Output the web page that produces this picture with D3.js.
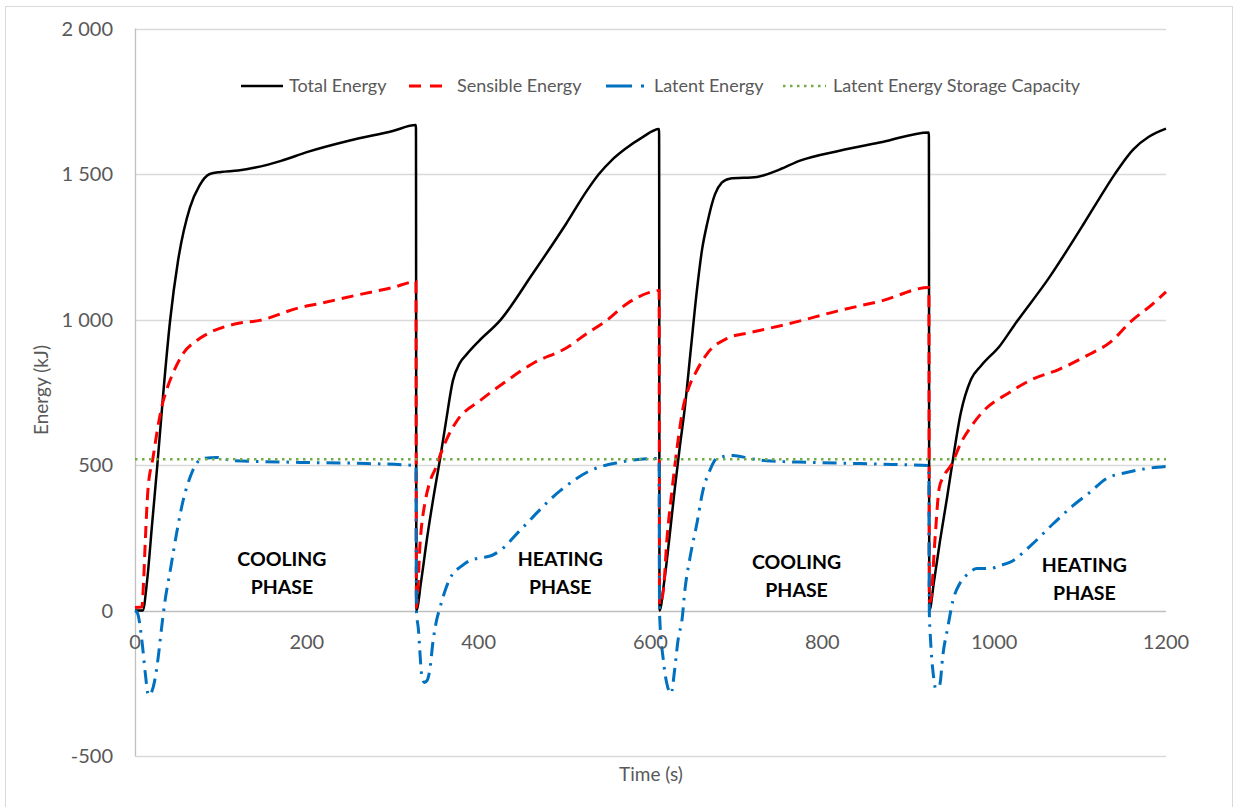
<!DOCTYPE html>
<html>
<head>
<meta charset="utf-8">
<script src="https://cdn.jsdelivr.net/npm/d3@7"></script>
<style>
  body { margin: 0; background: #fff; }
  svg text { font-family: Lato, "Open Sans", sans-serif; }
</style>
</head>
<body>
<svg id="chart" width="1234" height="807"></svg>
<script>
// Data: [time (s), energy (kJ)]
var totalEnergy = [
  [0,0],[9,0],[14,100],[20,300],[26,500],[33,750],[41,1000],[50,1200],[64,1385],[75,1460],[87,1500],
  [100,1507],[120,1512],[140,1522],[170,1545],[200,1575],[250,1615],[300,1648],[327,1668],
  [327.5,0],[333,100],[340,250],[348,400],[355,520],[362,650],[370,790],[378,850],[386,880],[400,925],
  [425,997],[463,1158],[502,1330],[526,1443],[540,1500],[555,1548],[570,1585],[590,1625],[610,1655],
  [610.5,0],[616,100],[622,250],[628,412],[634,560],[640,698],[647,900],[654,1100],[660,1240],[666,1330],
  [675,1430],[683,1470],[692,1484],[724,1490],[750,1515],[774,1546],[820,1580],[870,1610],[924,1643],
  [924.5,0],[930,100],[937,240],[945,385],[951,500],[961,677],[973,794],[985,842],[1007,911],[1024,983],
  [1064,1144],[1103,1323],[1123,1419],[1140,1498],[1162,1585],[1180,1628],[1200,1656]
];
var sensibleEnergy = [
  [0,10],[8,12],[10,100],[12,240],[15,412],[21,526],[26,620],[31,698],[37,760],[44,814],[56,883],
  [72,928],[87,955],[119,986],[145,997],[192,1041],[215,1055],[260,1085],[300,1110],[327,1130],
  [327.5,10],[332,240],[338,378],[343,440],[350,490],[356,540],[363,590],[375,653],[402,722],[433,790],
  [463,849],[503,904],[526,952],[549,997],[573,1055],[599,1093],[610,1100],
  [610.5,20],[615,69],[619,240],[625,412],[631,560],[638,698],[645,770],[652,814],[666,883],[689,935],
  [716,955],[762,986],[820,1031],[870,1065],[924,1110],
  [924.5,30],[926,34],[931,240],[936,420],[941,460],[950,500],[962,580],[975,640],[988,687],[1016,746],
  [1044,794],[1075,828],[1108,876],[1136,924],[1159,993],[1184,1052],[1200,1095]
];
var latentEnergy = [
  [0,0],[3,-10],[8,-103],[12,-216],[15,-285],[17,-292],[20,-275],[23,-240],[27,-161],[31,-58],[35,34],
  [41,137],[49,275],[56,378],[64,457],[70,498],[79,522],[95,526],[114,515],[192,509],[270,505],[327,498],
  [327.5,0],[330,-69],[332,-161],[334,-230],[337,-247],[340,-240],[343,-206],[347,-103],[351,-34],
  [355,10],[361,69],[370,127],[378,148],[390,172],[405,182],[415,189],[425,206],[448,275],[495,412],
  [530,481],[564,509],[599,522],[610,522],
  [610.5,-10],[615,-172],[619,-251],[624,-285],[628,-206],[632,-103],[637,-24],[640,69],[646,182],
  [654,299],[661,412],[669,481],[677,522],[696,533],[716,522],[735,515],[785,509],[844,505],[882,502],[924,498],
  [924.5,0],[926,-103],[929,-216],[932,-268],[935,-262],[937,-251],[940,-161],[946,-58],[952,34],
  [960,93],[970,127],[980,144],[995,144],[1007,155],[1018,165],[1045,230],[1069,299],[1092,361],
  [1111,405],[1131,454],[1154,474],[1178,488],[1200,495]
];
var storageCapacity = [[0,520],[1200,520]];

var yTicks = [-500, 0, 500, 1000, 1500, 2000];
var yTickLabels = ["-500", "0", "500", "1 000", "1 500", "2 000"];
var xTicks = [0, 200, 400, 600, 800, 1000, 1200];
var seriesNames = ["Total Energy", "Sensible Energy", "Latent Energy", "Latent Energy Storage Capacity"];
var phaseLabels = [
  {t: 171, e: 160, name: "COOLING"},
  {t: 495, e: 160, name: "HEATING"},
  {t: 770, e: 150, name: "COOLING"},
  {t: 1105, e: 140, name: "HEATING"}
];

var svg = d3.select("#chart"),
    width = +svg.attr("width"),
    height = +svg.attr("height");

var x = d3.scaleLinear().domain([0, 1200]).range([135, 1166]);
var y = d3.scaleLinear().domain([-500, 2000]).range([756, 28.5]);

// outer chart frame
svg.append("rect")
  .attr("x", 5.5).attr("y", 6.5)
  .attr("width", 1227).attr("height", 810)
  .attr("fill", "none").attr("stroke", "#d9d9d9");

// gridlines
svg.append("g")
  .selectAll("line")
  .data(yTicks)
  .enter()
  .append("line")
    .attr("x1", x(0)).attr("x2", x(1200))
    .attr("y1", function(d){ return Math.round(y(d)) + 0.5 })
    .attr("y2", function(d){ return Math.round(y(d)) + 0.5 })
    .attr("stroke", function(d){ return d == 0 ? "#bfbfbf" : "#d9d9d9" })
    .attr("stroke-width", 1.3);

// vertical axis line
svg.append("line")
  .attr("x1", x(0) + 0.5).attr("x2", x(0) + 0.5)
  .attr("y1", y(2000)).attr("y2", y(-500))
  .attr("stroke", "#bfbfbf").attr("stroke-width", 1.3);

// y labels
svg.append("g")
  .selectAll("text")
  .data(yTicks)
  .enter()
  .append("text")
    .attr("x", 113)
    .attr("y", function(d){ return y(d) })
    .attr("dy", "0.36em")
    .attr("text-anchor", "end")
    .style("font-size", "20px")
    .style("fill", "#595959")
    .text(function(d, i){ return yTickLabels[i] });

// series
var line = d3.line()
  .x(function(d){ return x(d[0]) })
  .y(function(d){ return y(d[1]) })
  .curve(d3.curveMonotoneX);

svg.append("path").datum(totalEnergy)
  .attr("d", line).attr("fill", "none")
  .attr("stroke", "#000").attr("stroke-width", 2.5);

svg.append("path").datum(sensibleEnergy)
  .attr("d", line).attr("fill", "none")
  .attr("stroke", "#ff0000").attr("stroke-width", 3)
  .attr("stroke-dasharray", "12,7");

svg.append("path").datum(latentEnergy)
  .attr("d", line).attr("fill", "none")
  .attr("stroke", "#0070c0").attr("stroke-width", 3)
  .attr("stroke-dasharray", "14,7,2.5,7");

svg.append("path").datum(storageCapacity)
  .attr("d", line).attr("fill", "none")
  .attr("stroke", "#70ad47").attr("stroke-width", 2.5)
  .attr("stroke-dasharray", "2.5,4.5");

// x labels (sit just under the zero line)
svg.append("g")
  .selectAll("text")
  .data(xTicks)
  .enter()
  .append("text")
    .attr("x", function(d){ return x(d) })
    .attr("y", 642)
    .attr("dy", "0.36em")
    .attr("text-anchor", "middle")
    .style("font-size", "20px")
    .style("fill", "#595959")
    .text(function(d){ return d });

// phase labels
var phases = svg.append("g")
  .selectAll("text")
  .data(phaseLabels)
  .enter()
  .append("text")
    .attr("text-anchor", "middle")
    .style("font-size", "19.5px")
    .style("font-weight", "bold")
    .style("fill", "#000");
phases.append("tspan")
  .attr("x", function(d){ return x(d.t) })
  .attr("y", function(d){ return y(d.e) + 2 })
  .text(function(d){ return d.name });
phases.append("tspan")
  .attr("x", function(d){ return x(d.t) })
  .attr("y", function(d){ return y(d.e) + 30 })
  .text("PHASE");

// axis titles
svg.append("text")
  .attr("transform", "translate(48,390) rotate(-90)")
  .attr("text-anchor", "middle")
  .style("font-size", "19px")
  .style("fill", "#595959")
  .text("Energy (kJ)");

svg.append("text")
  .attr("x", 651).attr("y", 781)
  .attr("text-anchor", "middle")
  .style("font-size", "19px")
  .style("fill", "#595959")
  .text("Time (s)");

// legend
var legendItems = [
  {x1: 241, x2: 283, tx: 289, color: "#000", w: 2.5, dash: null},
  {x1: 409, x2: 444, tx: 457, color: "#ff0000", w: 3, dash: "12,9"},
  {x1: 606, x2: 645, tx: 654, color: "#0070c0", w: 3, dash: "26,9,3,20"},
  {x1: 783, x2: 826, tx: 833, color: "#70ad47", w: 2.5, dash: "2.5,4.5"}
];
var legend = svg.append("g");
legendItems.forEach(function(d, i){
  legend.append("line")
    .attr("x1", d.x1).attr("x2", d.x2)
    .attr("y1", 86).attr("y2", 86)
    .attr("stroke", d.color).attr("stroke-width", d.w)
    .attr("stroke-dasharray", d.dash);
  legend.append("text")
    .attr("x", d.tx).attr("y", 86)
    .attr("dy", "0.35em")
    .style("font-size", "18px")
    .style("fill", "#595959")
    .text(seriesNames[i]);
});
</script>
</body>
</html>
